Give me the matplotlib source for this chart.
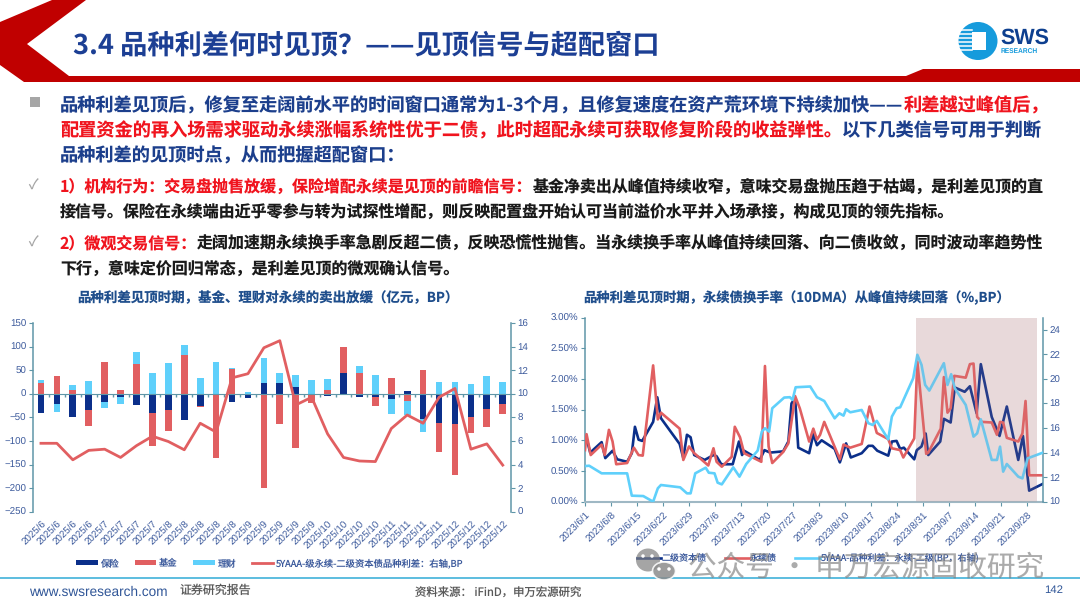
#!/usr/bin/env python3
import numpy as np
import matplotlib
matplotlib.use('Agg')
import matplotlib.pyplot as plt
from matplotlib.patches import Polygon, Rectangle, Ellipse

plt.rcParams['font.family'] = ['Noto Sans CJK SC', 'DejaVu Sans']
plt.rcParams['text.hinting'] = 'no_hinting'

# left chart: selling by investor type, 100m yuan, and spread on the right axis
months = ['2025/6'] * 4 + ['2025/7'] * 4 + ['2025/8'] * 5 + ['2025/9'] * 5 \
    + ['2025/10'] * 4 + ['2025/11'] * 4 + ['2025/12'] * 4
insurance = [-40, -22, -49, -35, -17, -6, -24, -40, -35, -56, -25, 0, -17, -9, 22,
             23, 15, 0, -4, 43, -6, -6, -11, 6, -53, -62, -65, -50, -33, -21]
fund = [22, 38, 8, -34, 67, 8, 63, -71, -44, 83, -3, -136, 52, 0, -200,
        -64, -115, -19, 8, 57, 45, -20, 34, -15, 50, -61, -107, -33, -37, -21]
wealth = [8, -16, 10, 27, -14, -15, 25, 43, 65, 20, 33, 68, 3, 3, 53,
          22, 24, 29, 24, -3, 13, 39, -32, -30, -27, 24, 25, 20, 37, 25]
spread = [5.8, 5.8, 4.4, 5.2, 5.3, 4.6, 5.6, 6.4, 5.95, 5.25, 7.5, 6.75, 11.35, 11.7, 13.9,
          14.5, 9.05, 9.7, 6.6, 4.6, 4.3, 4.25, 7.05, 8.2, 7.5, 9.7, 10.45, 5.3, 5.75, 3.95]

# right chart: turnover and spread, read at the vertices of each line (trading day number)
week_labels = ['2023/6/1', '2023/6/8', '2023/6/15', '2023/6/22', '2023/6/29', '2023/7/6',
               '2023/7/13', '2023/7/20', '2023/7/27', '2023/8/3', '2023/8/10', '2023/8/17',
               '2023/8/24', '2023/8/31', '2023/9/7', '2023/9/14', '2023/9/21', '2023/9/28']
tier2_day = [0, 0.3, 1, 3.2, 3.9, 5.3, 6.2, 8.1, 9, 9.6, 10.3, 11, 13.1, 13.9, 14.6, 18.2, 18.9,
             19.6, 20.3, 21, 23, 24.7, 25.3, 26.2, 28.4, 29.6, 30.2, 30.6, 33.6, 34.5, 35.6,
             38.1, 39.1, 39.7, 40.4, 41, 43.1, 43.9, 44.6, 45.5, 48, 49, 50.2, 51.1, 53.2, 54.5,
             55.3, 56.2, 58.3, 59, 59.9, 60.6, 61.3, 63.3, 63.8, 64.7, 65.5, 66, 68.3, 69, 70.3,
             71.1, 73, 74, 75.3, 76.1, 78.2, 79.7, 81.1, 83.3, 84.2, 85.4, 88]
tier2 = [0.95, 1.03, 0.80, 0.97, 0.71, 0.83, 0.69, 0.65, 0.79, 1.22, 1.01, 0.99, 1.30, 1.70, 1.36,
         0.94, 0.71, 1.09, 1.05, 0.76, 0.68, 0.76, 0.74, 0.61, 0.61, 0.98, 0.76, 0.83, 0.68, 0.84,
         0.80, 0.82, 0.98, 1.60, 1.69, 0.88, 0.79, 1.10, 0.92, 1.00, 0.86, 0.64, 0.95, 0.72, 0.79,
         0.91, 0.91, 0.83, 0.75, 0.98, 0.99, 0.86, 0.88, 0.69, 0.84, 0.90, 1.11, 0.76, 0.98, 1.35,
         1.29, 1.86, 1.79, 1.88, 1.44, 2.24, 1.38, 1.07, 1.55, 0.68, 1.07, 0.18, 0.29]
perp_day = [0, 0.3, 1.1, 3.2, 3.8, 4.6, 5.3, 6, 8.1, 9.4, 10.3, 11.1, 13.1, 14, 14.6, 18.2, 18.9,
            20, 21, 23.7, 24.7, 25.3, 26.3, 28.2, 28.8, 29.8, 30.6, 33.9, 34.6, 35.3, 36, 38.1,
            39.1, 40.4, 41.3, 43.1, 43.9, 44.6, 45.2, 46, 49, 49.7, 51, 53.2, 54.7, 56.1, 58.3,
            59, 60.6, 61.2, 63.3, 63.9, 65.6, 66, 68.4, 69, 69.7, 70.3, 71, 73.2, 74, 74.7, 75.4,
            76.3, 78.2, 79.2, 79.8, 80.4, 81.1, 83.3, 84.1, 84.7, 85.4, 88]
perp = [0.84, 1.10, 0.76, 0.93, 0.76, 1.17, 0.98, 0.61, 0.63, 0.88, 0.76, 0.75, 2.22, 1.34, 1.45,
        1.19, 0.68, 0.90, 0.79, 0.59, 0.87, 0.65, 0.57, 0.73, 1.22, 1.05, 0.79, 0.65, 2.21, 0.90,
        0.63, 0.81, 0.95, 1.72, 1.52, 0.98, 1.19, 1.01, 1.09, 1.30, 0.69, 0.93, 0.88, 0.94, 1.55,
        1.12, 1.02, 0.87, 0.84, 0.72, 1.03, 2.28, 0.78, 0.80, 1.19, 2.03, 1.45, 1.52, 2.05, 2.02,
        2.24, 2.25, 1.38, 1.30, 1.29, 1.09, 1.30, 1.29, 1.04, 0.98, 1.11, 1.64, 0.43, 0.43]
gap_day = [0, 0.8, 3.2, 8.1, 9, 11.2, 13.1, 14, 14.6, 18.3, 19.6, 20.3, 21.2, 23.2, 23.8, 24.9,
           25.5, 26.3, 28.5, 29.7, 31, 33.2, 34, 34.6, 35.4, 36, 38.3, 39.4, 39.9, 40.5, 43.3,
           44.6, 46, 48, 48.9, 49.7, 50.2, 51, 53.2, 54.5, 55.3, 56.1, 58.3, 59, 59.9, 60.6, 63.1,
           63.9, 64.7, 65.4, 66.2, 69, 69.7, 70.4, 71.1, 73.2, 74.7, 75.4, 76.1, 78.2, 79.2, 79.8,
           80.4, 81.1, 83.3, 84.1, 85.1, 88]
gap = [12.9, 12.93, 12.31, 12.31, 10.49, 10.46, 10.0, 11.09, 11.36, 11.17, 10.68, 10.68, 12.31,
       12.77, 12.36, 12.31, 11.55, 11.41, 12.8, 12.04, 13.07, 14.16, 15.71, 15.98, 15.71, 17.61,
       18.48, 18.51, 18.29, 19.32, 19.38, 18.51, 18.2, 16.79, 17.2, 17.01, 17.53, 17.28, 17.47,
       16.39, 16.25, 16.58, 15.08, 16.93, 17.61, 17.69, 20.05, 21.96, 21.14, 19.51, 19.05, 21.28,
       19.51, 20.38, 19.24, 17.88, 15.3, 15.57, 16.71, 13.4, 13.4, 14.48, 12.45, 13.07, 12.04,
       11.9, 13.53, 13.99]
shade_days = (63.7, 87.0)

NAVY = '#0b2f8a'
RED = '#e15f61'
SKY = '#5fd0fb'
SPINE = '#5f96a8'
TICK = '#3c5a9c'
TEXT_BLUE = '#1c3f8c'
TEXT_RED = '#f0141e'
TEXT_DARK = '#1a1a1a'

W, H = 1080, 608
fig = plt.figure(figsize=(W / 100, H / 100), dpi=100)


def px_axes(left, top, right, bottom, **kw):
    return fig.add_axes([left / W, 1 - bottom / H, (right - left) / W, (bottom - top) / H], **kw)


bg = px_axes(0, 0, W, H, zorder=0)
bg.set_xlim(0, W)
bg.set_ylim(H, 0)
bg.axis('off')

# header band
bg.add_patch(Polygon([(52, 0), (86, 0), (27, 44), (69, 76), (1080, 76), (1080, 69), (923, 69),
                      (906, 76), (1080, 76), (1080, 82), (24, 82), (0, 65), (0, 22)],
                     closed=True, color='#c00000', lw=0))
bg.text(73, 46, '3.4 品种利差何时见顶？——见顶信号与超配窗口', fontsize=19.6, color='#1c3f94',
        fontweight='bold', va='center')

# logo
bg.add_patch(Ellipse((978, 41), 39, 38, color='#169bdc', lw=0))
bg.add_patch(Rectangle((972, 32), 14, 18, color='white', lw=0))
for y_line in [30, 34, 38, 42, 46, 50]:
    bg.plot([959, 972], [y_line, y_line], color='white', lw=1.1)
bg.text(1000, 38, 'SWS', fontsize=15.5, fontweight='bold', color='#0d3f8f', va='center',
        family='Liberation Sans')
bg.text(1001, 51.5, 'RESEARCH', fontsize=4.8, fontweight='bold', color='#169bdc', va='center',
        family='Liberation Sans')

renderer = fig.canvas.get_renderer()


def draw_runs(x, y, runs, size):
    # text pieces of different colours, one after the other on a line
    for text, color in runs:
        t = bg.text(x, y, text, fontsize=size, color=color, fontweight='bold', va='center')
        x += t.get_window_extent(renderer).width


bg.add_patch(Rectangle((30, 97), 10, 10, color='#a6a6a6', lw=0))
draw_runs(60, 106, [('品种利差见顶后，修复至走阔前水平的时间窗口通常为1-3个月，且修复速度在资产荒环境下持续加快——', TEXT_BLUE),
                    ('利差越过峰值后，', TEXT_RED)], 13.1)
draw_runs(60, 131, [('配置资金的再入场需求驱动永续涨幅系统性优于二债，此时超配永续可获取修复阶段的收益弹性。', TEXT_RED),
                    ('以下几类信号可用于判断', TEXT_BLUE)], 13.1)
draw_runs(60, 156, [('品种利差的见顶时点，从而把握超配窗口：', TEXT_BLUE)], 13.1)

bg.text(33, 186, '✓', fontsize=10, color='#a6a6a6', va='center', ha='center')
draw_runs(60, 187, [('1）机构行为：交易盘抛售放缓，保险增配永续是见顶的前瞻信号：', TEXT_RED),
                    ('基金净卖出从峰值持续收窄，意味交易盘抛压趋于枯竭，是利差见顶的直', TEXT_DARK)], 11.5)
draw_runs(60, 212, [('接信号。保险在永续端由近乎零参与转为试探性增配，则反映配置盘开始认可当前溢价水平并入场承接，构成见顶的领先指标。', TEXT_DARK)], 11.5)
bg.text(33, 243, '✓', fontsize=10, color='#a6a6a6', va='center', ha='center')
draw_runs(60, 244, [('2）微观交易信号：', TEXT_RED),
                    ('走阔加速期永续换手率急剧反超二债，反映恐慌性抛售。当永续换手率从峰值持续回落、向二债收敛，同时波动率趋势性', TEXT_DARK)], 11.5)
draw_runs(60, 269, [('下行，意味定价回归常态，是利差见顶的微观确认信号。', TEXT_DARK)], 11.5)

bg.text(268, 298, '品种利差见顶时期，基金、理财对永续的卖出放缓（亿元，BP）', fontsize=9.7, color='#1f4e8c',
        fontweight='bold', ha='center', va='center')
bg.text(797, 298, '品种利差见顶时期，永续债换手率（10DMA）从峰值持续回落（%,BP）', fontsize=9.6, color='#1f4e8c',
        fontweight='bold', ha='center', va='center')

# footer
bg.plot([0, W], [578, 578], color='#4fb8dc', lw=1.3)
bg.text(29, 592, 'www.swsresearch.com', fontsize=9.8, color='#2f5597', va='center', family='Liberation Sans')
bg.text(180, 590, '证券研究报告', fontsize=8.6, color='#595959', va='center')
bg.text(415, 593, '资料来源： iFinD，申万宏源研究', fontsize=8.2, color='#595959', va='center')
bg.text(1044, 590, '142', fontsize=8.2, color='#2f5597', va='center', family='Liberation Sans')


def style_ticks(ax):
    for lab in ax.get_xticklabels() + ax.get_yticklabels():
        lab.set_family('Liberation Sans')
        lab.set_color(TICK)
        lab.set_fontsize(7)


# left chart
ax = px_axes(33, 323, 510.7, 511.7, zorder=2)
x = np.arange(len(months))
pos = np.zeros(len(months))
neg = np.zeros(len(months))
for series, color, name in [(insurance, NAVY, '保险'), (fund, RED, '基金'), (wealth, SKY, '理财')]:
    vals = np.array(series, dtype=float)
    bottom = np.where(vals >= 0, pos, neg)
    ax.bar(x, vals, 0.42, bottom=bottom, color=color, label=name, zorder=2)
    pos += np.clip(vals, 0, None)
    neg += np.clip(vals, None, 0)
ax.set_xlim(-0.5, len(months) - 0.5)
ax.set_ylim(-250, 150)
ax.set_yticks(np.arange(-250, 151, 50))
ax.spines['top'].set_visible(False)
ax.spines['right'].set_visible(False)
ax.spines['left'].set_color(SPINE)
ax.spines['bottom'].set_position(('data', 0))
ax.spines['bottom'].set_color(SPINE)
ax.spines['bottom'].set_zorder(5)
ax.spines['left'].set_linewidth(1.1)
ax.set_xticks(x)
ax.set_xticklabels(months, rotation=45, ha='right', rotation_mode='anchor')
ax.set_xticks(x[:-1] + 0.5, minor=True)
ax.tick_params(axis='x', which='major', length=0, pad=90)
ax.tick_params(axis='x', which='minor', length=2, color=SPINE, width=1)
ax.tick_params(axis='y', length=3, color=SPINE, pad=2)
style_ticks(ax)

ax2 = ax.twinx()
ax2.plot(x, spread, color=RED, lw=2, label='5YAAA-级永续-二级资本债品种利差：右轴,BP')
ax2.set_ylim(0, 16)
ax2.set_yticks(np.arange(0, 17, 2))
for side in ['top', 'left', 'bottom']:
    ax2.spines[side].set_visible(False)
ax2.spines['right'].set_color(SPINE)
ax2.spines['right'].set_linewidth(1.1)
ax2.tick_params(axis='y', length=3, color=SPINE, pad=2)
style_ticks(ax2)

h1, l1 = ax.get_legend_handles_labels()
h2, l2 = ax2.get_legend_handles_labels()
ax2.legend(h1 + h2, l1 + l2, ncol=4, frameon=False, fontsize=6.7, loc='center',
           bbox_to_anchor=(270 / W, 1 - 563 / H), bbox_transform=fig.transFigure,
           handlelength=2.3, handleheight=0.45, handletextpad=0.3, columnspacing=1.7, labelcolor=TICK)

# right chart
axr = px_axes(585, 317.5, 1042.7, 501.7, zorder=2)
axr.axvspan(shade_days[0], shade_days[1], color='#efe7e8', lw=0, zorder=0)
axr.plot(tier2_day, tier2, color=NAVY, lw=1.9, label='二级资本债', zorder=2)
axr.plot(perp_day, perp, color=RED, lw=1.9, label='永续债', zorder=3)
axr.set_xlim(0, 88)
axr.set_ylim(0, 3)
axr.set_yticks(np.arange(0, 3.01, 0.5))
axr.set_yticklabels(['{0:.2f}%'.format(v) for v in np.arange(0, 3.01, 0.5)])
axr.set_xticks(np.arange(len(week_labels)) * 5)
axr.set_xticklabels(week_labels, rotation=45, ha='right', rotation_mode='anchor')
axr.spines['top'].set_visible(False)
axr.spines['right'].set_visible(False)
axr.spines['left'].set_color(SPINE)
axr.spines['left'].set_linewidth(1.1)
axr.spines['bottom'].set_color('#9fb8c4')
axr.spines['bottom'].set_linewidth(1.5)
axr.tick_params(axis='x', length=3, color=SPINE, pad=3)
axr.tick_params(axis='y', length=3, color=SPINE, pad=2)
style_ticks(axr)

axr2 = axr.twinx()
axr2.plot(gap_day, gap, color=SKY, lw=1.9, label='5YAAA-品种利差：永续-二级(BP，右轴)', zorder=4)
# the shaded window lies over the lines in the reference and mutes them a little
axr2.axvspan(shade_days[0], shade_days[1], color='#c08a8a', alpha=0.15, lw=0, zorder=5)
axr2.set_ylim(10, 25)
axr2.set_yticks(np.arange(10, 25, 2))
for side in ['top', 'left', 'bottom']:
    axr2.spines[side].set_visible(False)
axr2.spines['right'].set_color(SPINE)
axr2.spines['right'].set_linewidth(1.1)
axr2.tick_params(axis='y', length=3, color=SPINE, pad=2)
style_ticks(axr2)

h1, l1 = axr.get_legend_handles_labels()
h2, l2 = axr2.get_legend_handles_labels()
axr2.legend(h1 + h2, l1 + l2, ncol=3, frameon=False, fontsize=6.5, loc='center',
            bbox_to_anchor=(808 / W, 1 - 558 / H), bbox_transform=fig.transFigure,
            handlelength=2.7, handletextpad=0.1, columnspacing=2, labelcolor=TICK)

# watermark on top of everything
top = px_axes(0, 0, W, H, zorder=10)
top.set_xlim(0, W)
top.set_ylim(H, 0)
top.axis('off')
top.add_patch(Ellipse((648, 560), 24, 23, color='#7f7f7f', alpha=0.7, lw=0))
top.add_patch(Ellipse((664, 571), 23, 18, facecolor='#8c8c8c', edgecolor='white', alpha=0.85, lw=1.2))
for ex, ey in [(643, 556), (652, 556), (659, 569), (669, 569)]:
    top.add_patch(Ellipse((ex, ey), 3.5, 3.5, color='white', lw=0))
top.text(688, 567, '公众号 · 申万宏源固收研究', fontsize=20.6, color='#7f7f7f', alpha=0.65, va='center')

fig.savefig('out.png', dpi=100)
